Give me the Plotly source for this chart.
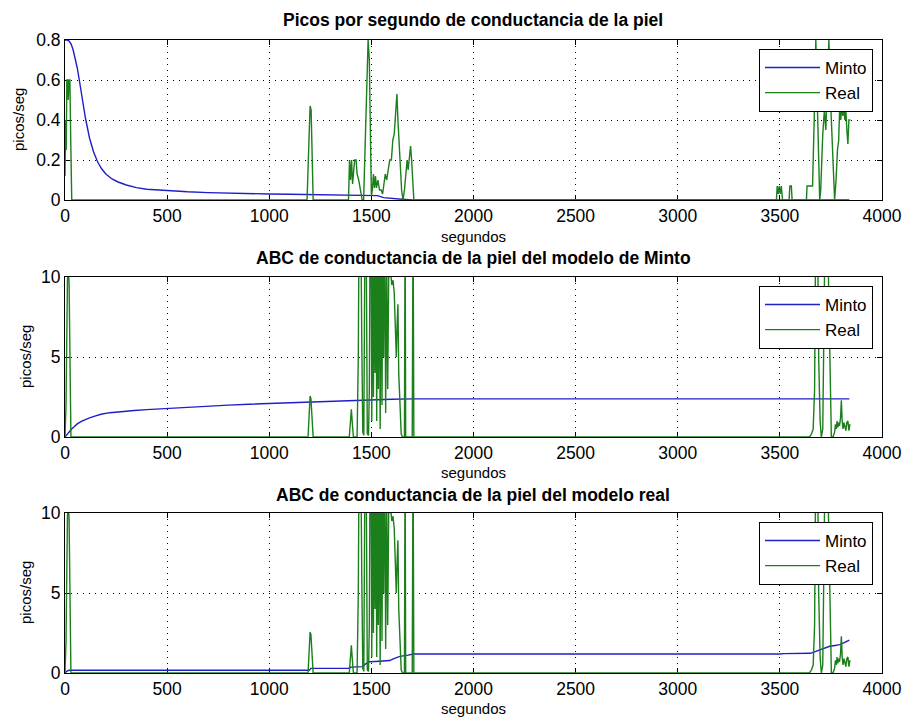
import plotly.graph_objects as go

# ---------------- data ----------------
# Panel 1: Picos por segundo
t_minto1 = [0, 10, 20, 30, 40, 50, 60, 70, 80, 90, 100, 110, 120, 140, 160, 180, 200, 230, 260, 300,
            350, 400, 450, 500, 600, 700, 800, 900, 1000, 1100, 1200, 1300, 1400, 1500, 1530, 1560,
            1600, 1650, 1700, 2500, 3840]
y_minto1 = [0.8, 0.8, 0.795, 0.78, 0.75, 0.71, 0.66, 0.6, 0.53, 0.47, 0.41, 0.36, 0.31, 0.24, 0.19,
            0.155, 0.13, 0.105, 0.09, 0.075, 0.062, 0.054, 0.05, 0.046, 0.041, 0.037, 0.034, 0.032,
            0.03, 0.029, 0.028, 0.027, 0.026, 0.026, 0.022, 0.012, 0.007, 0.004, 0.0, 0.0, 0.0]

t_real1 = [0, 3, 6, 9, 13, 16, 20, 24, 28, 33, 1185, 1195, 1200, 1205, 1210, 1215, 1388, 1393, 1398,
           1403, 1408, 1413, 1418, 1425, 1430, 1438, 1445, 1455, 1462, 1470, 1478, 1484, 1490, 1495,
           1500, 1505, 1510, 1515, 1520, 1525, 1532, 1540, 1548, 1555, 1562, 1568, 1575, 1582, 1590,
           1598, 1605, 1612, 1620, 1625, 1630, 1636, 1642, 1648, 1655, 1662, 1668, 1675, 1680, 1686,
           1692, 1697, 1702, 1708, 3483, 3487, 3492, 3497, 3502, 3507, 3513, 3545, 3549, 3556, 3560,
           3630, 3633, 3660, 3668, 3676, 3683, 3690, 3695, 3700, 3710, 3718, 3725, 3733, 3740, 3748,
           3755, 3762, 3768, 3775, 3782, 3788, 3793, 3798, 3803, 3808, 3813, 3818, 3823, 3828, 3833,
           3838, 3845]
y_real1 = [0.12, 0.4, 0.25, 0.6, 0.6, 0.5, 0.6, 0.6, 0.3, 0.0, 0.0, 0.3, 0.47, 0.45, 0.2, 0.0, 0.0,
           0.2, 0.1, 0.2, 0.08, 0.15, 0.2, 0.2, 0.13, 0.1, 0.05, 0.0, 0.0, 0.3, 0.7, 0.8, 0.7, 0.35,
           0.02, 0.05, 0.13, 0.06, 0.12, 0.06, 0.1, 0.05, 0.05, 0.03, 0.1, 0.13, 0.1, 0.15, 0.2, 0.2,
           0.3, 0.33, 0.45, 0.53, 0.4, 0.3, 0.15, 0.05, 0.0, 0.05, 0.12, 0.2, 0.15, 0.22, 0.27, 0.2,
           0.1, 0.0, 0.0, 0.07, 0.03, 0.07, 0.03, 0.07, 0.0, 0.0, 0.07, 0.07, 0.0, 0.0, 0.07, 0.07,
           0.4, 0.8, 0.5, 0.1, 0.0, 0.05, 0.33, 0.45, 0.35, 0.6, 0.8, 0.5, 0.3, 0.1, 0.0, 0.1, 0.25,
           0.3, 0.47, 0.4, 0.47, 0.42, 0.47, 0.4, 0.45, 0.35, 0.28, 0.4, 0.4]

# Panels 2 and 3: ABC (same "Real" series)
t_real23 = [0, 5, 12, 16, 20, 24, 29, 1190, 1196, 1200, 1204, 1210, 1215, 1392, 1397, 1402, 1407,
            1412, 1430, 1436, 1440, 1448, 1453, 1458, 1463, 1468, 1474, 1480, 1486, 1490, 1494, 1498,
            1502, 1506, 1510, 1514, 1518, 1522, 1526, 1530, 1534, 1538, 1543, 1548, 1552, 1556, 1560,
            1565, 1570, 1575, 1580, 1585, 1590, 1595, 1600, 1606, 1612, 1618, 1622, 1626, 1630, 1634,
            1640, 1646, 1652, 1662, 1665, 1668, 1700, 1704, 1708, 3645, 3655, 3663, 3670, 3676, 3684,
            3690, 3697, 3703, 3710, 3716, 3722, 3732, 3740, 3746, 3752, 3760, 3768, 3772, 3776, 3780,
            3784, 3788, 3792, 3797, 3801, 3805, 3809, 3814, 3818, 3823, 3828, 3833, 3838, 3843]
y_real23 = [0.0, 2.0, 9.8, 10.5, 9.6, 6.0, 0.0, 0.0, 1.5, 2.56, 2.4, 0.5, 0.0, 0.0, 1.0, 1.73, 0.8,
            0.0, 0.0, 5.0, 14.0, 14.0, 6.0, 0.3, 0.1, 12.0, 14.0, 0.2, 0.1, 3.0, 14.0, 14.0, 1.0,
            14.0, 2.5, 14.0, 4.0, 14.0, 1.0, 13.0, 3.0, 14.0, 0.5, 14.0, 2.0, 12.0, 5.0, 14.0, 1.5,
            11.0, 3.0, 10.5, 10.0, 10.2, 9.5, 9.8, 9.0, 7.0, 5.0, 7.0, 8.3, 4.0, 1.5, 0.2, 0.0, 0.0,
            14.0, 0.0, 0.0, 14.0, 0.0, 0.0, 0.2, 0.5, 3.0, 14.0, 14.0, 5.0, 1.0, 0.0, 0.5, 6.0, 14.0,
            14.0, 8.0, 2.0, 0.0, 0.0, 0.3, 0.8, 0.5, 1.0, 0.6, 0.9, 0.7, 1.2, 2.3, 1.0, 0.5, 0.9, 0.6,
            0.4, 0.9, 1.0, 0.4, 0.8]

t_minto2 = [0, 5, 13, 20, 30, 46, 60, 80, 95, 120, 150, 176, 220, 280, 339, 400, 500, 600, 700, 800,
            900, 1000, 1100, 1200, 1300, 1400, 1500, 1600, 1700, 2000, 3840]
y_minto2 = [0.0, 0.08, 0.2, 0.32, 0.47, 0.65, 0.82, 0.98, 1.08, 1.2, 1.32, 1.42, 1.52, 1.6, 1.66,
            1.71, 1.79, 1.86, 1.93, 1.99, 2.05, 2.1, 2.15, 2.2, 2.25, 2.29, 2.32, 2.36, 2.38, 2.38, 2.38]

t_minto3 = [0, 10, 20, 1195, 1205, 1390, 1400, 1455, 1470, 1490, 1520, 1560, 1590, 1610, 1640, 1680,
            1705, 3500, 3520, 3650, 3665, 3680, 3700, 3720, 3744, 3770, 3793, 3815, 3840]
y_minto3 = [0.0, 0.12, 0.17, 0.17, 0.29, 0.3, 0.37, 0.4, 0.55, 0.7, 0.72, 0.74, 0.78, 0.9, 1.04, 1.12,
            1.19, 1.19, 1.21, 1.23, 1.3, 1.4, 1.45, 1.55, 1.67, 1.72, 1.77, 1.9, 2.06]

titles = ["Picos por segundo de conductancia de la piel",
          "ABC de conductancia de la piel del modelo de Minto",
          "ABC de conductancia de la piel del modelo real"]
x_ticks = [0, 500, 1000, 1500, 2000, 2500, 3000, 3500, 4000]
y_ticks1 = [0, 0.2, 0.4, 0.6, 0.8]
y_ticks23 = [0, 5, 10]
y_tick_text1 = ["0", "0.2", "0.4", "0.6", "0.8"]

# ---------------- figure ----------------
W, H = 905, 720
BLUE = "#1f1fc8"
GREEN = "#1b7f1b"
FONT = "Liberation Sans, Arial, sans-serif"

fig = go.Figure()

panels = [
    (t_minto1, y_minto1, t_real1, y_real1),
    (t_minto2, y_minto2, t_real23, y_real23),
    (t_minto3, y_minto3, t_real23, y_real23),
]
legend_names = ["legend", "legend2", "legend3"]
for i, (tm, ym, tr, yr) in enumerate(panels):
    sfx = "" if i == 0 else str(i + 1)
    fig.add_trace(go.Scatter(x=tm, y=ym, mode="lines", name="Minto",
                             line=dict(color=BLUE, width=1.4),
                             xaxis="x" + sfx, yaxis="y" + sfx, legend=legend_names[i]))
    fig.add_trace(go.Scatter(x=tr, y=yr, mode="lines", name="Real",
                             line=dict(color=GREEN, width=1.4),
                             xaxis="x" + sfx, yaxis="y" + sfx, legend=legend_names[i]))

# plot area pixel boxes (top, bottom)
boxes = [(40, 200), (277, 437), (513, 673)]
x0p, x1p = 65, 882
title_y = [20, 258, 495]
xlab_y = [237, 472, 708]

axis_common = dict(
    showline=True, linecolor="black", linewidth=1, mirror="ticks",
    ticks="inside", ticklen=5, tickcolor="black", tickwidth=1,
    showgrid=True, gridcolor="black", gridwidth=1, griddash="1px,5px",
    zeroline=False, tickfont=dict(family=FONT, size=17.5, color="black"),
    layer="below traces", automargin=False,
)

layout = dict(
    width=W, height=H, margin=dict(l=0, r=0, t=0, b=0, autoexpand=False),
    paper_bgcolor="white", plot_bgcolor="white",
    font=dict(family=FONT, color="black"),
    showlegend=True,
)
annotations = []
for i, (top, bot) in enumerate(boxes):
    sfx = "" if i == 0 else str(i + 1)
    ydom = [1 - bot / H, 1 - top / H]
    layout["xaxis" + sfx] = dict(axis_common, domain=[x0p / W, x1p / W], range=[0, 4000],
                                 tickvals=x_ticks, anchor="y" + sfx)
    if i == 0:
        layout["yaxis" + sfx] = dict(axis_common, domain=ydom, range=[0, 0.8],
                                     tickvals=y_ticks1, ticktext=y_tick_text1, anchor="x" + sfx)
    else:
        layout["yaxis" + sfx] = dict(axis_common, domain=ydom, range=[0, 10],
                                     tickvals=y_ticks23, anchor="x" + sfx)
    leg = dict(x=873 / W, xanchor="right", y=1 - (top + 9) / H, yanchor="top",
               bgcolor="white", bordercolor="black", borderwidth=1,
               font=dict(family=FONT, size=17, color="black"),
               tracegroupgap=0, itemwidth=55)
    layout[legend_names[i]] = leg
    annotations.append(dict(text="<b>" + titles[i] + "</b>", xref="paper", yref="paper",
                            x=(x0p + x1p) / 2 / W, y=1 - title_y[i] / H, xanchor="center",
                            yanchor="middle", showarrow=False,
                            font=dict(family=FONT, size=17.5, color="black")))
    annotations.append(dict(text="segundos", xref="paper", yref="paper",
                            x=(x0p + x1p) / 2 / W, y=1 - xlab_y[i] / H, xanchor="center",
                            yanchor="middle", showarrow=False,
                            font=dict(family=FONT, size=15, color="black")))
    annotations.append(dict(text="picos/seg", xref="paper", yref="paper",
                            x=(19 if i == 0 else 25) / W, y=1 - (top + bot) / 2 / H,
                            xanchor="center", yanchor="middle", textangle=-90, showarrow=False,
                            font=dict(family=FONT, size=15, color="black")))
layout["annotations"] = annotations
fig.update_layout(**layout)

fig.write_html("out.html")
